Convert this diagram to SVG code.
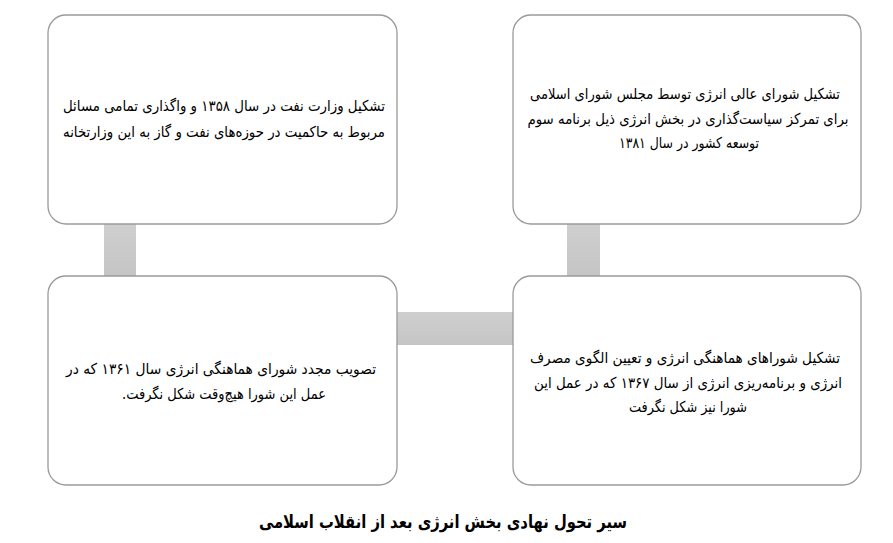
<svg xmlns="http://www.w3.org/2000/svg" width="893" height="543" viewBox="0 0 893 543">
<style>
.box{fill:#fff;stroke:#9a9a9a;stroke-width:1.3}
.conn{fill:url(#g)}
text{font-family:"DejaVu Sans","Noto Sans",sans-serif;font-size:15px;fill:#000;direction:rtl;text-anchor:middle}
.title{font-size:18px;font-weight:bold}
</style>
<defs>
<linearGradient id="g" x1="0" y1="0" x2="0" y2="1">
<stop offset="0" stop-color="#cfcfcf"/>
<stop offset="1" stop-color="#c5c5c5"/>
</linearGradient>
</defs>
<rect width="893" height="543" fill="#fff"/>
<g id="connectors">
<rect class="conn" x="104" y="224" width="32" height="52"/>
<rect class="conn" x="567" y="224" width="33" height="52"/>
<rect class="conn" x="397" y="312" width="116" height="33"/>
</g>
<g id="node-1358">
<rect class="box" x="48" y="15" width="349" height="209" rx="18"/>
<text x="224" y="111" textLength="322" lengthAdjust="spacingAndGlyphs">تشکیل وزارت نفت در سال ۱۳۵۸ و واگذاری تمامی مسائل</text>
<text x="224" y="137" textLength="322" lengthAdjust="spacingAndGlyphs">مربوط به حاکمیت در حوزه‌های نفت و گاز به این وزارتخانه</text>
</g>
<g id="node-1381">
<rect class="box" x="513" y="15" width="348" height="209" rx="18"/>
<text x="685" y="99" textLength="310" lengthAdjust="spacingAndGlyphs">تشکیل شورای عالی انرژی توسط مجلس شورای اسلامی</text>
<text x="688" y="124" textLength="321" lengthAdjust="spacingAndGlyphs">برای تمرکز سیاست‌گذاری در بخش انرژی ذیل برنامه سوم</text>
<text x="689" y="148" textLength="140" lengthAdjust="spacingAndGlyphs">توسعه کشور در سال ۱۳۸۱</text>
</g>
<g id="node-1367">
<rect class="box" x="513" y="276" width="348" height="209" rx="18"/>
<text x="685" y="363" textLength="310" lengthAdjust="spacingAndGlyphs">تشکیل شوراهای هماهنگی انرژی و تعیین الگوی مصرف</text>
<text x="688" y="388" textLength="308" lengthAdjust="spacingAndGlyphs">انرژی و برنامه‌ریزی انرژی از سال ۱۳۶۷ که در عمل این</text>
<text x="688" y="412" textLength="118" lengthAdjust="spacingAndGlyphs">شورا نیز شکل نگرفت</text>
</g>
<g id="node-1361">
<rect class="box" x="48" y="276" width="349" height="209" rx="18"/>
<text x="221" y="374" textLength="310" lengthAdjust="spacingAndGlyphs">تصویب مجدد شورای هماهنگی انرژی سال ۱۳۶۱ که در</text>
<text x="224" y="399" textLength="204" lengthAdjust="spacingAndGlyphs">عمل این شورا هیچ‌وقت شکل نگرفت.</text>
</g>
<text class="title" x="443" y="528" textLength="368" lengthAdjust="spacingAndGlyphs">سیر تحول نهادی بخش انرژی بعد از انقلاب اسلامی</text>
</svg>
